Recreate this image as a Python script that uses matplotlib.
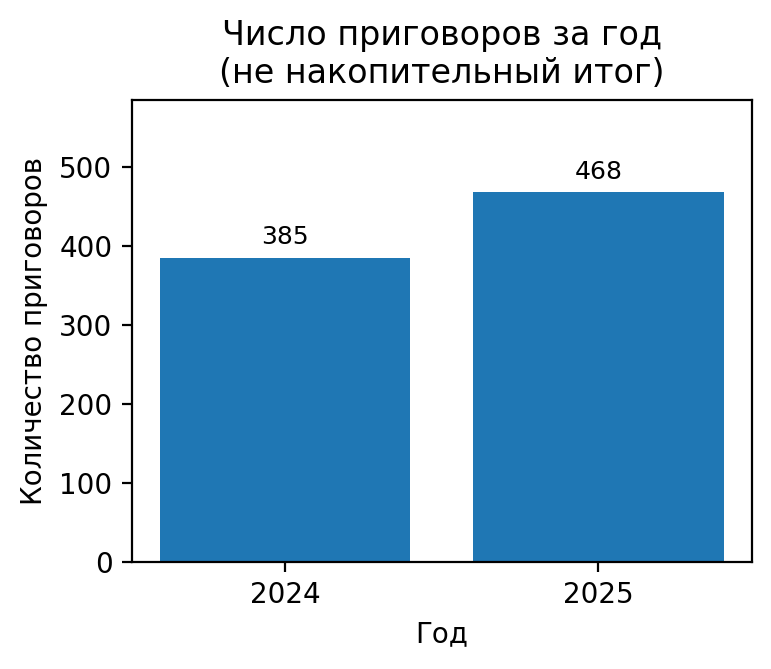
import matplotlib
matplotlib.use("Agg")
import matplotlib.pyplot as plt

years = ["2024", "2025"]
counts = [385, 468]

fig, ax = plt.subplots(figsize=(3.855, 3.345), dpi=200)
fig.subplots_adjust(left=0.171, right=0.975, bottom=0.160, top=0.851)

bars = ax.bar(years, counts, color="#1f77b4")
for b, v in zip(bars, counts):
    ax.annotate(str(v), (b.get_x() + b.get_width() / 2, v),
                xytext=(0, 3), textcoords="offset points",
                ha="center", va="bottom", fontsize=9)

ax.set_ylim(0, max(counts) * 1.25)
ax.set_title("Число приговоров за год\n(не накопительный итог)")
ax.set_xlabel("Год")
ax.set_ylabel("Количество приговоров")

fig.savefig("out.png", dpi=200)
